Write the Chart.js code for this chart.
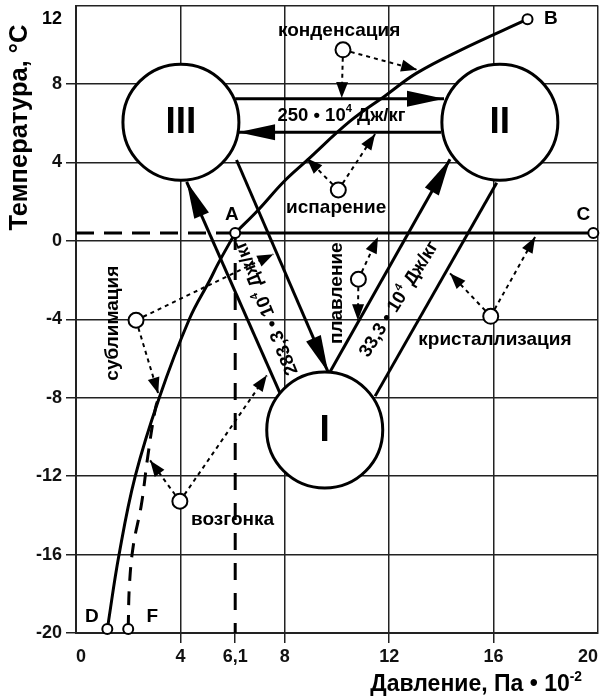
<!DOCTYPE html>
<html>
<head>
<meta charset="utf-8">
<script src="https://cdn.jsdelivr.net/npm/chart.js@4.4.0/dist/chart.umd.min.js"></script>
<style>
  html, body { margin: 0; padding: 0; background: #fff; }
</style>
</head>
<body>
<canvas id="phaseChart" width="602" height="696"></canvas>
<script>
Chart.defaults.font.family = "'Liberation Sans', Arial, sans-serif";
Chart.defaults.font.weight = 'bold';
Chart.defaults.color = '#111';

// axes
const xTicks = [0, 4, 6.1, 8, 12, 16, 20];
const xGrid = [4, 8, 12, 16, 20];
const yGrid = [12, 8, 4, 0, -4, -8, -12, -16];

// triple point A
const tripleX = 6.1;
const tripleY = 0.4;

// phase fields: I - ice, II - water, III - vapour
const phaseNames = ['I', 'II', 'III'];
const phaseX = [9.53, 16.24, 4.02];
const phaseY = [-9.65, 6.05, 6.05];

// sublimation curve D-A
const sublimX = [1.2, 1.65, 2.27, 3.19, 4.34, 5.13, 5.45, 6.1];
const sublimY = [-19.8, -16, -12, -8, -4, -2, -1.15, 0.4];

// evaporation curve A-B
const evapX = [6.1, 7.0, 7.95, 8.85, 10.5, 11.85, 13.05, 14.7, 17.3];
const evapY = [0.4, 1.6, 3.0, 4.1, 6.1, 7.4, 8.55, 9.7, 11.3];

// melting line A-C
const meltX = [6.1, 19.82];
const meltY = [0.4, 0.4];

// supercooled branch F
const fX = [2.0, 2.05, 2.2, 2.5, 2.75, 3.05, 3.2];
const fY = [-19.8, -17.5, -15.5, -13.5, -11, -8.5, -7.9];

// key points
const keyNames = ['A', 'B', 'C', 'D', 'F'];
const keyX = [6.1, 17.3, 19.82, 1.2, 2.0];
const keyY = [0.4, 11.3, 0.4, -19.8, -19.8];

// transitions between phase fields (arrowhead at the end point)
const transFromX = [6.1, 13.99, 7.82, 6.15, 9.73, 16.12];
const transFromY = [7.25, 5.53, -7.78, 4.12, -6.69, 2.96];
const transToX = [14.1, 6.21, 4.24, 9.66, 14.33, 11.46];
const transToY = [7.25, 5.53, 3.01, -6.7, 4.16, -7.92];
const transHead = [true, true, true, true, true, false];

// process notes and where their arrows point
const noteNames = ['конденсация', 'испарение', 'сублимация', 'возгонка', 'плавление', 'кристаллизация'];
const noteX = [10.23, 10.05, 2.3, 3.98, 10.82, 15.89];
const noteY = [9.74, 2.59, -4.05, -13.28, -1.96, -3.85];
const noteTipX = [[10.18, 13.07], [11.46, 8.84], [3.15, 7.56], [2.84, 7.31], [11.57, 10.8], [17.59, 14.33]];
const noteTipY = [[7.28, 8.72], [5.45, 4.21], [-7.79, -0.68], [-11.2, -6.86], [0.19, -4.05], [0.2, -1.66]];

// heat of the transitions, 10^4 J/kg
const heatValues = ['250', '283,3', '33,3'];

// text placement (data coords) and rotation in degrees
const noteTextAt = [[10.08, 10.71, 0], [9.97, 1.71, 0], [1.42, -4.2, -90], [6.0, -14.21, 0], [9.99, -2.67, -90], [16.05, -5.07, 0]];
const heatTextAt = [[10.17, 6.37, 0], [7.3, -3.41, -112], [12.38, -2.98, -58]];
const keyTextAt = [[5.97, 1.31], [18.19, 11.3], [19.44, 1.31], [0.61, -19.15], [2.92, -19.15]];

const FONT = "'Liberation Sans', Arial, sans-serif";
const pts = (xs, ys) => xs.map((v, i) => ({x: v, y: ys[i]}));
const line = (data, extra) => Object.assign({
  data, showLine: true, fill: false, borderColor: '#000', borderWidth: 3,
  pointRadius: 0, order: 2
}, extra);

const datasets = [
  line(pts(sublimX, sublimY), {tension: 0.4}),
  line(pts(evapX, evapY), {tension: 0.4}),
  line(pts(meltX, meltY)),
  line(pts([0, tripleX], [tripleY, tripleY]), {borderDash: [18, 10]}),
  line(pts([tripleX, tripleX], [tripleY, -20]), {borderDash: [17, 13]}),
  line(pts(fX, fY), {tension: 0.4, borderDash: [14, 10]})
];
transFromX.forEach((v, i) => {
  datasets.push(line(pts([v, transToX[i]], [transFromY[i], transToY[i]])));
});
noteX.forEach((v, i) => {
  noteTipX[i].forEach((tx, j) => {
    datasets.push(line(pts([v, tx], [noteY[i], noteTipY[i][j]]), {borderWidth: 2, borderDash: [4, 4]}));
  });
});
const marker = (xs, ys, r, w) => ({
  data: pts(xs, ys), showLine: false, pointRadius: r, pointBorderWidth: w,
  pointBackgroundColor: '#fff', pointBorderColor: '#000', order: 0, clip: false
});
datasets.push(marker(phaseX, phaseY, 58, 3));
datasets.push(marker(noteX, noteY, 7.5, 2));
datasets.push(marker(keyX, keyY, 5, 2));

// draws text with superscript parts: parts = [[text, isSup], ...]
function richText(ctx, parts, x, y, size, align) {
  const widths = parts.map(([t, sup]) => {
    ctx.font = 'bold ' + (sup ? size * 0.6 : size) + 'px ' + FONT;
    return ctx.measureText(t).width;
  });
  const total = widths.reduce((a, b) => a + b, 0);
  let cx = align === 'right' ? x - total : align === 'left' ? x : x - total / 2;
  ctx.textAlign = 'left';
  ctx.textBaseline = 'middle';
  parts.forEach(([t, sup], i) => {
    ctx.font = 'bold ' + (sup ? size * 0.6 : size) + 'px ' + FONT;
    ctx.fillText(t, cx, sup ? y - size * 0.36 : y);
    cx += widths[i];
  });
}

function arrowHead(ctx, x0, y0, x1, y1, len, half) {
  const a = Math.atan2(y1 - y0, x1 - x0);
  const c = Math.cos(a), s = Math.sin(a);
  ctx.beginPath();
  ctx.moveTo(x1, y1);
  ctx.lineTo(x1 - len * c + half * s, y1 - len * s - half * c);
  ctx.lineTo(x1 - len * c - half * s, y1 - len * s + half * c);
  ctx.closePath();
  ctx.fill();
}

const sketchLayer = {
  id: 'sketchLayer',
  beforeDraw(chart) {
    const ctx = chart.ctx;
    ctx.save();
    ctx.fillStyle = '#fff';
    ctx.fillRect(0, 0, chart.width, chart.height);
    ctx.restore();
  },
  afterDatasetsDraw(chart) {
    const {ctx, scales: {x, y}, chartArea} = chart;
    const px = v => x.getPixelForValue(v);
    const py = v => y.getPixelForValue(v);
    ctx.save();
    ctx.fillStyle = '#000';

    // arrowheads of the transitions
    transFromX.forEach((v, i) => {
      if (!transHead[i]) return;
      arrowHead(ctx, px(v), py(transFromY[i]), px(transToX[i]), py(transToY[i]), 37, 8);
    });
    // arrowheads of the notes
    noteX.forEach((v, i) => {
      noteTipX[i].forEach((tx, j) => {
        arrowHead(ctx, px(v), py(noteY[i]), px(tx), py(noteTipY[i][j]), 16, 6);
      });
    });

    // phase labels
    ctx.textAlign = 'center';
    ctx.textBaseline = 'middle';
    ctx.font = 'bold 37px ' + FONT;
    phaseNames.forEach((n, i) => ctx.fillText(n, px(phaseX[i]), py(phaseY[i]) + 1));

    // key point letters
    ctx.font = 'bold 19px ' + FONT;
    keyNames.forEach((n, i) => ctx.fillText(n, px(keyTextAt[i][0]), py(keyTextAt[i][1])));

    // process notes
    noteNames.forEach((n, i) => {
      const [tx, ty, rot] = noteTextAt[i];
      ctx.save();
      ctx.translate(px(tx), py(ty));
      ctx.rotate(rot * Math.PI / 180);
      richText(ctx, [[n, false]], 0, 0, 19, 'center');
      ctx.restore();
    });

    // heats of transition
    heatValues.forEach((h, i) => {
      const [tx, ty, rot] = heatTextAt[i];
      ctx.save();
      ctx.translate(px(tx), py(ty));
      ctx.rotate(rot * Math.PI / 180);
      richText(ctx, [[h + ' \u2022 10', false], ['4', true], [' Дж/кг', false]], 0, 0, 18.5, 'center');
      ctx.restore();
    });

    // top tick label of the temperature axis
    ctx.font = 'bold 18px ' + FONT;
    ctx.textAlign = 'right';
    ctx.textBaseline = 'middle';
    ctx.fillText('12', chartArea.left - 14, chartArea.top + 14);

    // axis titles
    ctx.save();
    ctx.translate(20, chartArea.top + 122);
    ctx.rotate(-Math.PI / 2);
    richText(ctx, [['Температура, °C', false]], 0, 0, 25.5, 'center');
    ctx.restore();
    richText(ctx, [['Давление, Па \u2022 10', false], ['-2', true]], chartArea.right - 16, chart.height - 11, 23, 'right');
    ctx.restore();
  }
};

new Chart(document.getElementById('phaseChart'), {
  type: 'scatter',
  data: {datasets},
  plugins: [sketchLayer],
  options: {
    responsive: false,
    animation: false,
    events: [],
    layout: {autoPadding: false, padding: {top: 5.5, right: 4, bottom: 0, left: 0}},
    plugins: {legend: {display: false}, tooltip: {enabled: false}},
    scales: {
      x: {
        type: 'linear',
        min: 0,
        max: 20,
        afterBuildTicks: s => { s.ticks = xTicks.map(v => ({value: v})); },
        afterFit: s => { s.height = 63; s.paddingLeft = 0; s.paddingRight = 0; },
        ticks: {
          font: {size: 18},
          padding: 3,
          align: 'inner',
          autoSkip: false,
          maxRotation: 0,
          callback: v => String(v).replace('.', ',')
        },
        grid: {
          color: c => (c.tick && xGrid.includes(c.tick.value)) ? '#222' : 'rgba(0,0,0,0)',
          lineWidth: 1.5,
          tickLength: 10,
          tickColor: c => (c.tick && c.tick.value > 0 && c.tick.value < 20) ? '#222' : 'rgba(0,0,0,0)'
        },
        border: {color: '#222', width: 2}
      },
      y: {
        min: -20,
        max: 12,
        afterFit: s => { s.width = 76; s.paddingTop = 0; s.paddingBottom = 0; },
        ticks: {
          stepSize: 4,
          font: {size: 18},
          padding: 4,
          callback: v => v === 12 ? '' : String(v)
        },
        grid: {
          color: c => (c.tick && yGrid.includes(c.tick.value)) ? '#222' : 'rgba(0,0,0,0)',
          lineWidth: 1.5,
          tickLength: 10,
          tickColor: c => (c.tick && c.tick.value < 12) ? '#222' : 'rgba(0,0,0,0)'
        },
        border: {color: '#222', width: 2}
      }
    }
  }
});
</script>
</body>
</html>
